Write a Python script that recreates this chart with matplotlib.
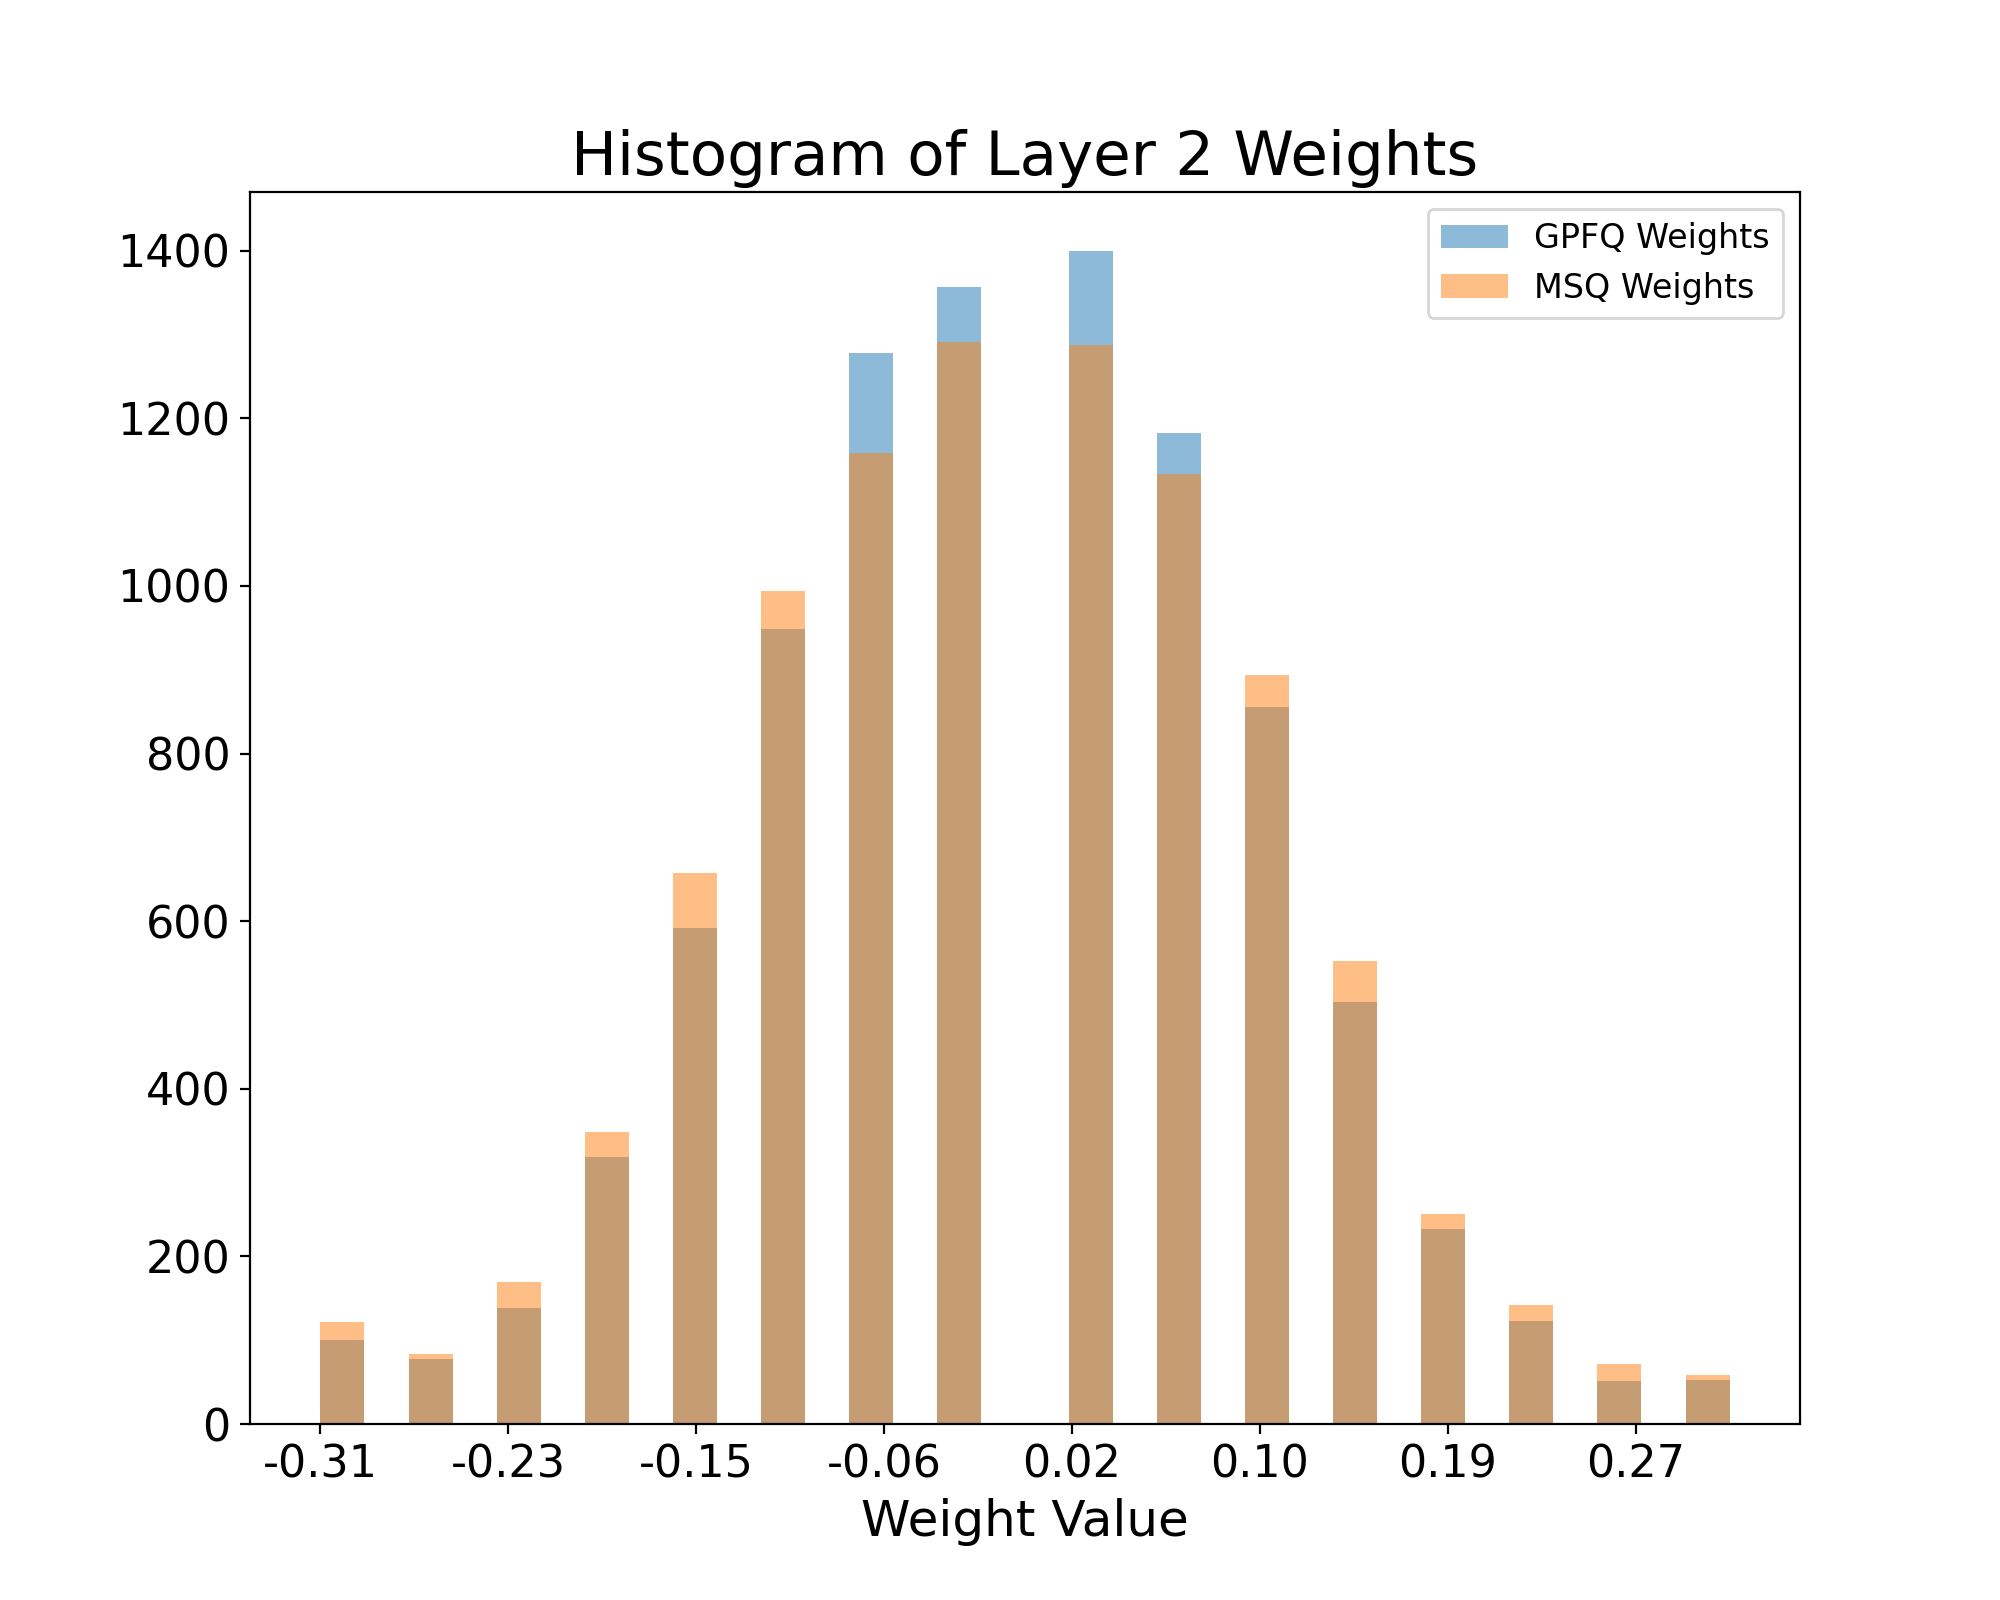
import numpy as np
import matplotlib
matplotlib.use("Agg")
import matplotlib.pyplot as plt

# histogram settings
lo, hi = -0.3125, 0.3125
n_bins = 32

# occupied bins (others are empty) and the counts in them
bin_index = [0, 2, 4, 6, 8, 10, 12, 14, 17, 19, 21, 23, 25, 27, 29, 31]
gpfq_counts = [100, 77, 139, 319, 592, 948, 1278, 1357, 1400, 1183, 856, 503, 233, 123, 51, 52]
msq_counts = [122, 83, 170, 348, 658, 994, 1158, 1291, 1288, 1133, 894, 552, 250, 142, 71, 59]

tick_values = [-0.3125, -0.2292, -0.1458, -0.0625, 0.0208, 0.1042, 0.1875, 0.2708]
tick_labels = ["-0.31", "-0.23", "-0.15", "-0.06", "0.02", "0.10", "0.19", "0.27"]

edges = np.linspace(lo, hi, n_bins + 1)
width = edges[1] - edges[0]
centers = edges[bin_index] + width / 2

fig, ax = plt.subplots(figsize=(10, 8), dpi=200)

ax.hist(centers, bins=edges, weights=gpfq_counts, alpha=0.5, label="GPFQ Weights")
ax.hist(centers, bins=edges, weights=msq_counts, alpha=0.5, label="MSQ Weights")

ax.set_xticks(tick_values)
ax.set_xticklabels(tick_labels)
ax.tick_params(axis="both", labelsize=16)

ax.set_title("Histogram of Layer 2 Weights", fontsize=22)
ax.set_xlabel("Weight Value", fontsize=18)
ax.legend(loc="upper right", fontsize=12)

fig.savefig("out.png", dpi=200)
